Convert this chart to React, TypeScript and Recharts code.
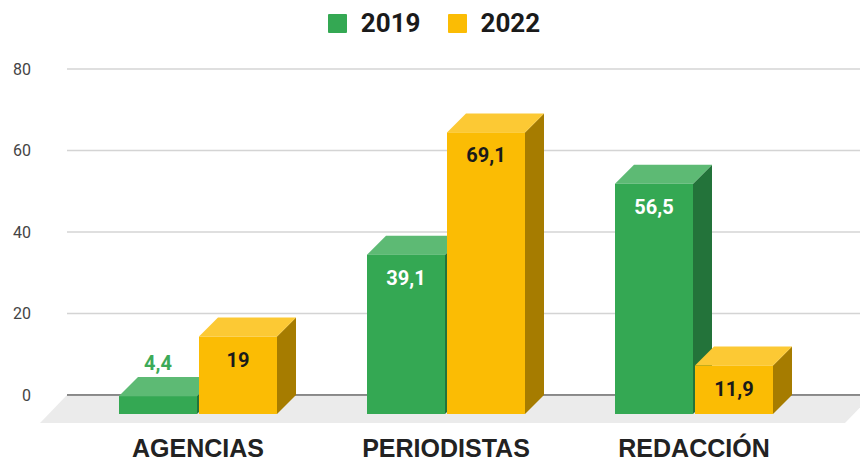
import React from 'react';
import { BarChart, Bar, XAxis, YAxis, CartesianGrid, Legend, ReferenceLine } from 'recharts';

const categories = ['AGENCIAS', 'PERIODISTAS', 'REDACCIÓN'];
const values2019 = [4.4, 39.1, 56.5];
const values2022 = [19, 69.1, 11.9];
const yTicks = [0, 20, 40, 60, 80];
const seriesNames = ['2019', '2022'];

const data = categories.map((c, i) => ({ name: c, s2019: values2019[i], s2022: values2022[i] }));

const DEPTH = 19;
const palettes: Record<string, any> = {
  s2019: { front: '#34A853', top: '#5DBA74', side: '#23733A', inside: '#FFFFFF', outside: '#3DAA58' },
  s2022: { front: '#FBBC04', top: '#FCC934', side: '#A67C00', inside: '#1A1A1A', outside: '#E0A800' },
};

const fmt = (v: number) => String(v).replace('.', ',');

const make3DBar = (key: string) => (props: any) => {
  const { x, y, width, height, payload } = props;
  const p = palettes[key];
  const d = DEPTH;
  const v = payload[key];
  const w = width;
  const h = height;
  const inside = h > 40;
  const cx = x + w / 2;
  return (
    <g>
      <polygon
        points={`${x + w},${y + d} ${x + w + d},${y} ${x + w + d},${y + h} ${x + w},${y + h + d}`}
        fill={p.side}
      />
      <polygon
        points={`${x},${y + d} ${x + d},${y} ${x + w + d},${y} ${x + w},${y + d}`}
        fill={p.top}
      />
      <rect x={x} y={y + d} width={w} height={h} fill={p.front} />
      <text
        x={cx}
        y={inside ? y + d + 23 : y - 14}
        textAnchor="middle"
        dominantBaseline="central"
        fontFamily="Roboto, 'Noto Sans', sans-serif"
        fontWeight="bold"
        fontSize={20}
        fill={inside ? p.inside : p.outside}
      >
        {fmt(v)}
      </text>
    </g>
  );
};

const Floor = (props: any) => {
  const { x1, y1, x2 } = props;
  return (
    <g>
      <polygon
        points={`${x1},${y1} ${x2 + 12},${y1} ${x2 - 15},${y1 + 28} ${x1 - 27},${y1 + 28}`}
        fill="#EBEBEB"
      />
      <line x1={x1} y1={y1} x2={x2} y2={y1} stroke="#333333" strokeWidth={1.2} />
    </g>
  );
};

const XTick = (props: any) => {
  const { x, y, payload } = props;
  return (
    <text
      x={x}
      y={y + 62}
      textAnchor="middle"
      fontFamily="'Liberation Sans', Arial, sans-serif"
      fontWeight="bold"
      fontSize={25}
      fill="#222222"
    >
      {payload.value}
    </text>
  );
};

const YTick = (props: any) => {
  const { x, y, payload } = props;
  return (
    <text
      x={x - 36}
      y={y}
      textAnchor="end"
      dominantBaseline="central"
      fontFamily="Roboto, 'Noto Sans', sans-serif"
      fontSize={16}
      fill="#444444"
    >
      {payload.value}
    </text>
  );
};

const LegendContent = () => {
  const colors = [palettes.s2019.front, palettes.s2022.front];
  return (
    <div
      style={{
        display: 'flex',
        justifyContent: 'center',
        alignItems: 'center',
        height: 46,
        paddingLeft: 8,
        fontFamily: "Roboto, 'Noto Sans', sans-serif",
      }}
    >
      {seriesNames.map((n, i) => (
        <div key={n} style={{ display: 'flex', alignItems: 'center', marginRight: i === 0 ? 27 : 0 }}>
          <div style={{ width: 19, height: 19, background: colors[i], borderRadius: 1 }} />
          <span style={{ marginLeft: 14, fontSize: 26, fontWeight: 'bold', color: '#1A1A1A', lineHeight: '30px' }}>
            {n}
          </span>
        </div>
      ))}
    </div>
  );
};

export default function App() {
  return (
    <div style={{ position: 'absolute', left: 0, top: 0, width: 860, height: 461, background: '#fff' }}>
      <BarChart
        width={860}
        height={461}
        data={data}
        margin={{ top: 69, right: 0, bottom: 0, left: 0 }}
        barSize={78}
        barGap={2}
      >
        <CartesianGrid vertical={false} stroke="#D4D4D4" strokeWidth={1.3} />
        <XAxis
          dataKey="name"
          height={66}
          axisLine={false}
          tickLine={false}
          tickSize={0}
          tickMargin={0}
          padding={{ left: 7, right: 42 }}
          tick={<XTick />}
          interval={0}
        />
        <YAxis
          width={67}
          domain={[0, 80]}
          ticks={yTicks}
          axisLine={false}
          tickLine={false}
          tickSize={0}
          tickMargin={0}
          tick={<YTick />}
          interval={0}
        />
        <Legend
          layout="horizontal"
          verticalAlign="middle"
          align="center"
          wrapperStyle={{ top: 0, left: 0, width: 860, height: 46 }}
          content={<LegendContent />}
        />
        <ReferenceLine y={0} shape={<Floor />} zIndex={-60} ifOverflow="visible" />
        <Bar dataKey="s2019" name={seriesNames[0]} fill={palettes.s2019.front} shape={make3DBar('s2019')} isAnimationActive={false} />
        <Bar dataKey="s2022" name={seriesNames[1]} fill={palettes.s2022.front} shape={make3DBar('s2022')} isAnimationActive={false} />
      </BarChart>
    </div>
  );
}
